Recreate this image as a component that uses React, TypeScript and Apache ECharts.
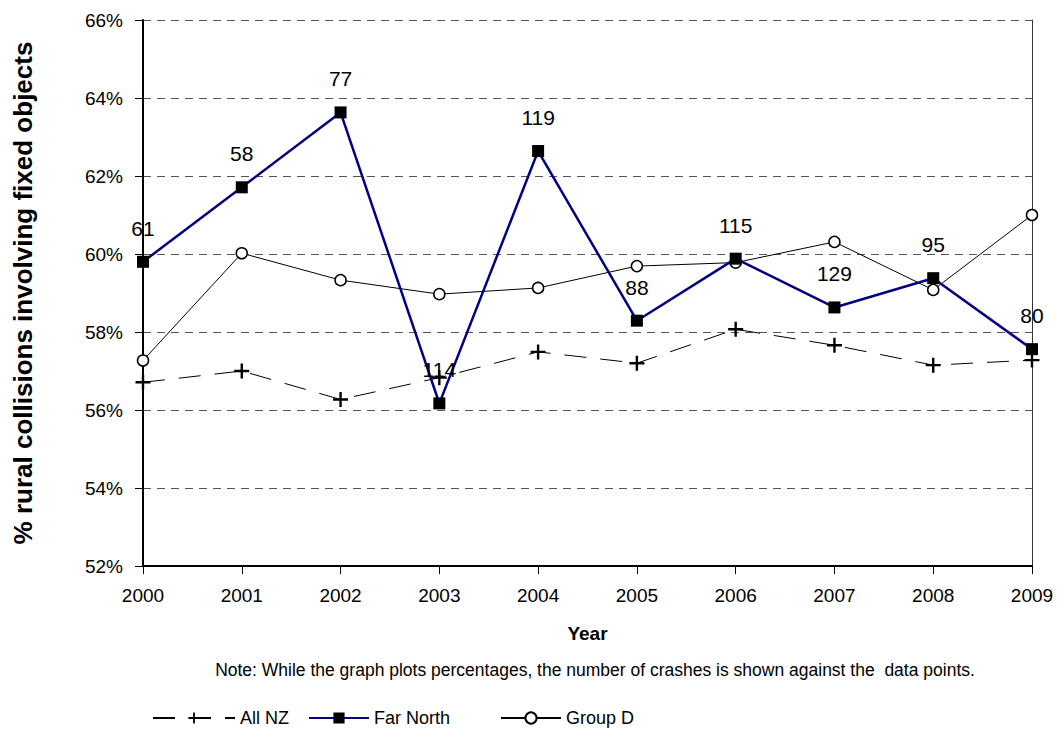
import React, { useEffect, useRef } from "react";
import * as echarts from "echarts";

const years = ["2000", "2001", "2002", "2003", "2004", "2005", "2006", "2007", "2008", "2009"];
const allNZ = [56.71, 57.0, 56.27, 56.83, 57.49, 57.2, 58.07, 57.66, 57.15, 57.28];
const farNorth = [59.8, 61.71, 63.63, 56.17, 62.64, 58.29, 59.88, 58.63, 59.38, 57.56];
const groupD = [57.27, 60.02, 59.33, 58.97, 59.13, 59.69, 59.78, 60.31, 59.08, 61.0];
const farNorthCrashes = [61, 58, 77, 114, 119, 88, 115, 129, 95, 80];

const FONT = "'Liberation Sans', Arial, sans-serif";
const PLUS = "path://M4.2,0H5.8V4.2H10V5.8H5.8V10H4.2V5.8H0V4.2H4.2Z";

export default function App() {
  const ref = useRef<HTMLDivElement>(null);
  useEffect(() => {
    if (!ref.current) return;
    const chart = echarts.init(ref.current, null, { renderer: "svg" });
    const legendBase = {
      orient: "horizontal",
      top: 704,
      itemHeight: 14,
      textStyle: { fontSize: 18, color: "#000", fontFamily: FONT },
    };
    chart.setOption({
      animation: false,
      textStyle: { fontFamily: FONT },
      grid: { left: 143, right: 32, top: 20, bottom: 172, containLabel: false },
      legend: [
        { ...legendBase, left: 147, itemWidth: 82, data: ["All NZ"] },
        { ...legendBase, left: 303, itemWidth: 60, data: ["Far North"] },
        { ...legendBase, left: 495, itemWidth: 60, data: ["Group D"] },
      ],
      xAxis: {
        type: "category",
        data: years,
        boundaryGap: false,
        name: "Year",
        nameLocation: "middle",
        nameGap: 58,
        nameTextStyle: { fontSize: 19, fontWeight: "bold", color: "#000", fontFamily: FONT },
        axisLine: { lineStyle: { color: "#000", width: 2 } },
        axisTick: { show: true, length: 8, lineStyle: { color: "#000" } },
        axisLabel: { fontSize: 19, color: "#000", margin: 20, fontFamily: FONT },
        splitLine: { show: false },
      },
      yAxis: [
        {
          type: "value",
          min: 52,
          max: 66,
          interval: 2,
          name: "% rural collisions involving fixed objects",
          nameLocation: "middle",
          nameGap: 107,
          nameTextStyle: { fontSize: 26, fontWeight: "bold", color: "#000", fontFamily: FONT },
          axisLine: { show: true, lineStyle: { color: "#000", width: 2 } },
          axisTick: { show: true, length: 8, lineStyle: { color: "#000" } },
          axisLabel: { fontSize: 19, color: "#000", margin: 20, formatter: "{value}%", fontFamily: FONT },
          splitLine: { show: true, lineStyle: { color: "#555", width: 1, type: [8, 6] } },
        },
        {
          type: "value",
          min: 52,
          max: 66,
          interval: 2,
          position: "right",
          axisLine: { show: true, lineStyle: { color: "#333", width: 1 } },
          axisTick: { show: false },
          axisLabel: { show: false },
          splitLine: { show: false },
        },
      ],
      graphic: [
        {
          type: "text",
          x: 595,
          y: 670,
          style: {
            text: "Note: While the graph plots percentages, the number of crashes is shown against the  data points.",
            textAlign: "center",
            textVerticalAlign: "middle",
            fontSize: 17.5,
            fill: "#000",
            fontFamily: FONT,
          },
        },
      ],
      series: [
        {
          name: "All NZ",
          type: "line",
          data: allNZ,
          symbol: PLUS,
          symbolSize: 15,
          itemStyle: { color: "#000" },
          lineStyle: { color: "#000", width: 1, type: [22, 14] },
          z: 2,
        },
        {
          name: "Far North",
          type: "line",
          data: farNorth,
          symbol: "rect",
          symbolSize: 12,
          itemStyle: { color: "#000" },
          lineStyle: { color: "#000080", width: 2.5 },
          label: {
            show: true,
            position: "top",
            distance: 17,
            fontSize: 21,
            color: "#000",
            fontFamily: FONT,
            formatter: (p: any) => String(farNorthCrashes[p.dataIndex]),
          },
          z: 4,
        },
        {
          name: "Group D",
          type: "line",
          data: groupD,
          symbol: "circle",
          symbolSize: 11,
          itemStyle: { color: "#fff", borderColor: "#000", borderWidth: 1.5 },
          lineStyle: { color: "#000", width: 1 },
          z: 3,
        },
      ],
    });
    return () => chart.dispose();
  }, []);
  return <div ref={ref} style={{ width: 1064, height: 738, margin: -8 }} />;
}
